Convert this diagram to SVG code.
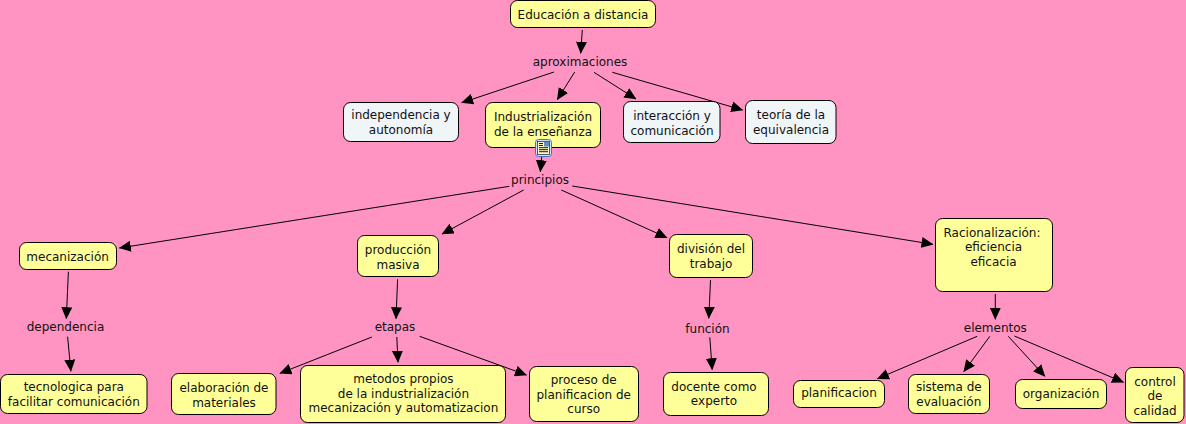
<svg xmlns="http://www.w3.org/2000/svg" width="1186" height="424" viewBox="0 0 1186 424">
<style>
.n{fill:#ffff99;stroke:#000;stroke-width:1}
.b{fill:#f0f5f8;stroke:#000;stroke-width:1}
text{font-family:"DejaVu Sans",Verdana,sans-serif;font-size:12px;fill:#111;text-anchor:middle}
#connectors line{stroke:#000;stroke-width:1;marker-end:url(#a)}
</style>
<defs><marker id="a" markerUnits="userSpaceOnUse" markerWidth="12" markerHeight="11" refX="11.5" refY="5.5" orient="auto"><path d="M0 0L12 5.5L0 11Z" fill="#000"/></marker></defs>
<rect width="1186" height="424" fill="#ff93c1"/>
<g id="connectors">
<line x1="582.3" y1="30" x2="580.7" y2="53.3"/>
<line x1="554" y1="72" x2="461.7" y2="102.7"/>
<line x1="574.7" y1="72" x2="557.3" y2="99.7"/>
<line x1="594" y1="72.3" x2="636" y2="99"/>
<line x1="612.3" y1="72.3" x2="742.7" y2="110"/>
<line x1="541.7" y1="157" x2="540.3" y2="171.7"/>
<line x1="509.3" y1="186.3" x2="119.4" y2="248"/>
<line x1="523.7" y1="190" x2="442" y2="234"/>
<line x1="561.3" y1="190" x2="667" y2="237.7"/>
<line x1="572.3" y1="186" x2="933" y2="244.3"/>
<line x1="68.4" y1="271.7" x2="66.3" y2="318.7"/>
<line x1="67.6" y1="336.7" x2="70.9" y2="371.3"/>
<line x1="397.6" y1="279.3" x2="396" y2="318.7"/>
<line x1="371.9" y1="337" x2="279.9" y2="373.3"/>
<line x1="396.8" y1="337" x2="398" y2="362.3"/>
<line x1="419.6" y1="336.3" x2="526.5" y2="375"/>
<line x1="710.5" y1="280" x2="708.8" y2="318.3"/>
<line x1="709.8" y1="337.3" x2="712.2" y2="369.7"/>
<line x1="995.3" y1="294" x2="995.3" y2="319.3"/>
<line x1="977.2" y1="336.3" x2="877.4" y2="378.7"/>
<line x1="989.8" y1="336.3" x2="963.8" y2="371.7"/>
<line x1="1008.3" y1="336.3" x2="1044.9" y2="376.3"/>
<line x1="1014.4" y1="336" x2="1123.5" y2="382.3"/>
</g>
<g id="n1"><rect class="n" x="510.5" y="0.5" width="145" height="27" rx="7"/><text x="583" y="19">Educación a distancia</text></g>
<g id="n2"><text x="580" y="66">aproximaciones</text></g>
<g id="n3"><rect class="b" x="343.5" y="102.5" width="115" height="39" rx="7"/><text x="401" y="119">independencia y</text><text x="401" y="133.5">autonomía</text></g>
<g id="n4"><rect class="n" x="485.5" y="102.5" width="115" height="45" rx="7"/><text x="543" y="121">Industrialización</text><text x="543" y="135.5">de la enseñanza</text>
<g id="icon"><rect x="535.5" y="139.5" width="16" height="17" rx="3" fill="#cfe0fa" stroke="#3f6fd0"/><rect x="537.5" y="141.5" width="12" height="13" fill="#fff9c4" stroke="#333" stroke-width="0.8"/><rect x="544" y="142" width="5" height="4.5" fill="#5f8fc0"/><path d="M539 143.5h4M539 145.5h4M539 147.7h9M539 149.7h9M539 151.7h9" stroke="#000" stroke-width="0.9"/></g></g>
<g id="n5"><rect class="b" x="623.5" y="101.5" width="96.5" height="41" rx="7"/><text x="672" y="120">interacción y</text><text x="672" y="134.5">comunicación</text></g>
<g id="n6"><rect class="b" x="745.5" y="100.5" width="90.5" height="43" rx="7"/><text x="791" y="119">teoría de la</text><text x="791" y="133.5">equivalencia</text></g>
<g id="n7"><text x="540" y="184">principios</text></g>
<g id="n8"><rect class="n" x="19.5" y="242.5" width="97" height="27" rx="7"/><text x="67.6" y="261">mecanización</text></g>
<g id="n9"><rect class="n" x="357.5" y="235.5" width="81" height="41" rx="7"/><text x="398" y="254">producción</text><text x="398" y="268.5">masiva</text></g>
<g id="n10"><rect class="n" x="669.5" y="234.5" width="83" height="43" rx="7"/><text x="711" y="253">división del</text><text x="711" y="267.5">trabajo</text></g>
<g id="n11"><rect class="n" x="935.5" y="218.5" width="117" height="73" rx="7"/><text x="992" y="236.5">Racionalización:</text><text x="993.5" y="251">eficiencia</text><text x="993.5" y="265.5">eficacia</text></g>
<g id="n12"><text x="65.5" y="331">dependencia</text></g>
<g id="n13"><text x="395" y="331">etapas</text></g>
<g id="n14"><text x="707.5" y="332.5">función</text></g>
<g id="n15"><text x="995.3" y="331.5">elementos</text></g>
<g id="n16"><rect class="n" x="0.5" y="374.5" width="146.5" height="39" rx="7"/><text x="73.8" y="391">tecnologica para</text><text x="73.8" y="405.5">facilitar comunicación</text></g>
<g id="n17"><rect class="n" x="171.5" y="373.5" width="104.5" height="41" rx="7"/><text x="224" y="392">elaboración de</text><text x="224" y="406.5">materiales</text></g>
<g id="n18"><rect class="n" x="300.5" y="365.5" width="205" height="57" rx="7"/><text x="403.4" y="383">metodos propios</text><text x="403.4" y="397.5">de la industrialización</text><text x="403.4" y="412">mecanización y automatizacion</text></g>
<g id="n19"><rect class="n" x="529.5" y="366.5" width="109" height="55" rx="7"/><text x="583.7" y="384">proceso de</text><text x="583.7" y="398.5">planificacion de</text><text x="583.7" y="413">curso</text></g>
<g id="n20"><rect class="n" x="663.5" y="372.5" width="105" height="43" rx="7"/><text x="714" y="390.5">docente como</text><text x="714" y="405">experto</text></g>
<g id="n21"><rect class="n" x="793.5" y="380.5" width="91" height="27" rx="7"/><text x="839" y="397">planificacion</text></g>
<g id="n22"><rect class="n" x="908.5" y="374.5" width="81" height="39" rx="7"/><text x="948.8" y="391">sistema de</text><text x="948.8" y="405.5">evaluación</text></g>
<g id="n23"><rect class="n" x="1015.5" y="379.5" width="91" height="29" rx="7"/><text x="1061" y="398">organización</text></g>
<g id="n24"><rect class="n" x="1125.5" y="367.5" width="58.5" height="55" rx="7"/><text x="1155" y="385.5">control</text><text x="1155" y="400">de</text><text x="1155" y="414.5">calidad</text></g>
</svg>
